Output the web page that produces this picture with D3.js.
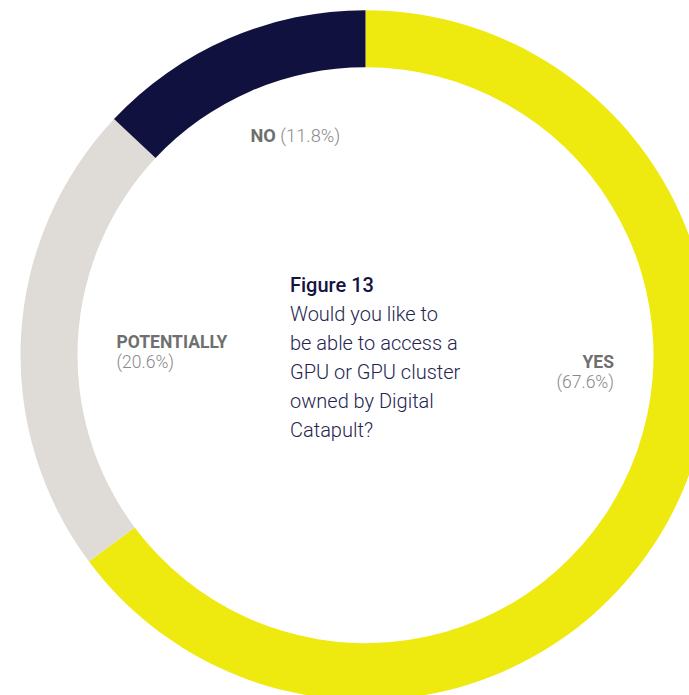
<!DOCTYPE html>
<html>
<head>
<meta charset="utf-8">
<script src="https://cdn.jsdelivr.net/npm/d3@7"></script>
<style>
  html, body { margin: 0; padding: 0; background: #ffffff; }
  svg { display: block; }
</style>
</head>
<body>
<svg id="chart" width="689" height="695"></svg>
<script>
// ---- data ----
const categories = ["YES", "POTENTIALLY", "NO"];
// share of the ring drawn for each answer
const arcShares = [64.8, 22.2, 13.0];
// percentages printed in the labels
const labelPercents = ["67.6%", "20.6%", "11.8%"];
const colors = ["#eee90f", "#dfdcd8", "#11113f"];
const titleLines = ["Figure 13"];
const questionLines = ["Would you like to", "be able to access a", "GPU or GPU cluster", "owned by Digital", "Catapult?"];

// ---- layout ----
const cx = 365.5, cy = 355.2;
const outerR = 345, innerR = 288;

const svg = d3.select("#chart");
const g = svg.append("g").attr("transform", `translate(${cx},${cy})`);

const data = categories.map((c, i) => ({ cat: c, value: arcShares[i], pct: labelPercents[i], color: colors[i] }));

const pie = d3.pie().value(d => d.value).sort(null).startAngle(0).endAngle(2 * Math.PI);
const arc = d3.arc().innerRadius(innerR).outerRadius(outerR);

g.selectAll("path.slice")
  .data(pie(data))
  .join("path")
  .attr("class", "slice")
  .attr("d", arc)
  .attr("fill", d => d.data.color);

// ---- slice labels ----
const labelFont = "Roboto, 'Noto Sans', Arial, sans-serif";
const nameColor = "#6f6f6f";
const pctColor = "#8a8a8a";

// YES: right aligned, two lines
const yes = svg.append("text")
  .attr("x", 614).attr("y", 367.5)
  .attr("text-anchor", "end")
  .style("font-family", labelFont).style("font-size", "17.5px");
yes.append("tspan").attr("x", 614).style("font-weight", 700).attr("fill", nameColor).text(data[0].cat);
yes.append("tspan").attr("x", 614).attr("dy", 20).style("font-weight", 300).attr("fill", pctColor).text(`(${data[0].pct})`);

// POTENTIALLY: left aligned, two lines
const pot = svg.append("text")
  .attr("x", 116.5).attr("y", 348.3)
  .style("font-family", labelFont).style("font-size", "17.5px");
pot.append("tspan").attr("x", 116.5).style("font-weight", 700).attr("fill", nameColor).text(data[1].cat);
pot.append("tspan").attr("x", 116.5).attr("dy", 20).style("font-weight", 300).attr("fill", pctColor).text(`(${data[1].pct})`);

// NO: single line
const no = svg.append("text")
  .attr("x", 250.5).attr("y", 141.7)
  .style("font-family", labelFont).style("font-size", "18.2px");
no.append("tspan").style("font-weight", 700).attr("fill", nameColor).text(data[2].cat);
no.append("tspan").style("font-weight", 300).attr("fill", pctColor).text(` (${data[2].pct})`);

// ---- centre caption ----
const caption = svg.append("text")
  .attr("x", 290).attr("y", 291.7)
  .style("font-family", labelFont).style("font-size", "20px");
titleLines.forEach((t, i) => {
  caption.append("tspan").attr("x", 290).attr("dy", i === 0 ? 0 : 29)
    .style("font-weight", 500).attr("fill", "#141440").text(t);
});
questionLines.forEach(t => {
  caption.append("tspan").attr("x", 290).attr("dy", 29)
    .style("font-weight", 300).attr("fill", "#24244f").text(t);
});
</script>
</body>
</html>
